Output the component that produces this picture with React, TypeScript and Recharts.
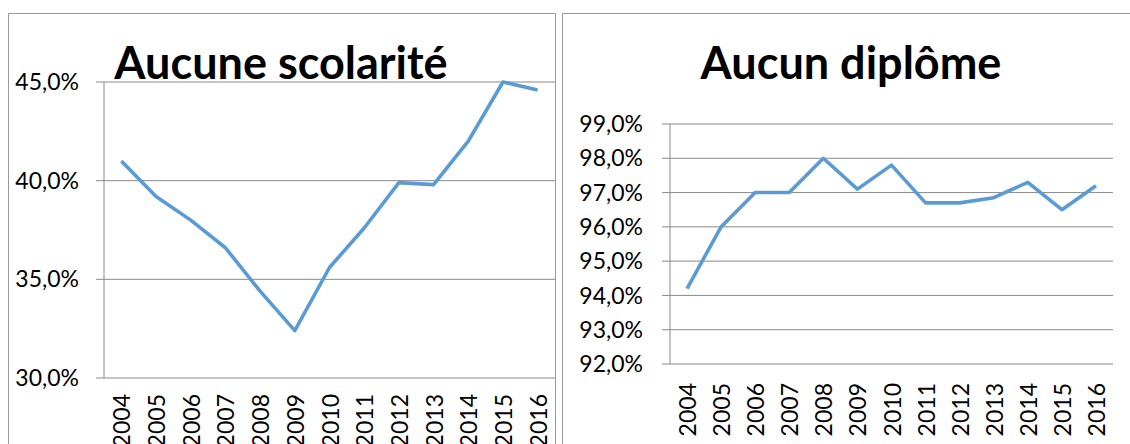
import React from 'react';
import { LineChart, Line, XAxis, YAxis, CartesianGrid } from 'recharts';

const years = ['2004', '2005', '2006', '2007', '2008', '2009', '2010', '2011', '2012', '2013', '2014', '2015', '2016'];
const aucuneScolarite = [41.0, 39.2, 38.0, 36.6, 34.4, 32.4, 35.6, 37.6, 39.9, 39.8, 42.0, 45.0, 44.6];
const aucunDiplome = [94.2, 96.0, 97.0, 97.0, 98.0, 97.1, 97.8, 96.7, 96.7, 96.85, 97.3, 96.5, 97.2];
const leftTicks = [30, 35, 40, 45];
const rightTicks = [92, 93, 94, 95, 96, 97, 98, 99];
const titles = ['Aucune scolarité', 'Aucun diplôme'];

const FONT = 'Lato, "Open Sans", sans-serif';
const GRID = '#8a8a8a';
const LINE = '#5B9BD5';
const LABEL_SIZE = 23;

const fmt = (v: number) => v.toFixed(1).replace('.', ',') + '%';

const makeData = (vals: number[]) => years.map((year, i) => ({ pos: i + 0.5, year, value: vals[i] }));

const YearTick = (props: any) => {
  const { x, y, payload, gap } = props;
  const idx = Math.floor(payload.value);
  const ty = y + gap;
  return (
    <text
      x={x}
      y={ty}
      transform={`rotate(-90 ${x} ${ty})`}
      textAnchor="end"
      dominantBaseline="central"
      fontSize={LABEL_SIZE}
      fontFamily={FONT}
      fill="#000"
    >
      {years[idx]}
    </text>
  );
};

type PanelProps = {
  vals: number[];
  width: number;
  height: number;
  top: number;
  right: number;
  yWidth: number;
  xHeight: number;
  domain: [number, number];
  ticks: number[];
  tickMargin: number;
  gap: number;
};

const Panel = ({ vals, width, height, top, right, yWidth, xHeight, domain, ticks, tickMargin, gap }: PanelProps) => {
  const data = makeData(vals);
  const n = years.length;
  const boundaries = Array.from({ length: n + 1 }, (_, i) => i);
  const centers = years.map((_, i) => i + 0.5);
  return (
    <LineChart width={width} height={height} data={data} margin={{ top, right, bottom: 0, left: 0 }}>
      <CartesianGrid vertical={false} stroke={GRID} strokeWidth={1} />
      <XAxis
        xAxisId="grid"
        dataKey="pos"
        type="number"
        domain={[0, n]}
        ticks={boundaries}
        tick={false}
        tickSize={7}
        height={0}
        axisLine={{ stroke: GRID }}
        tickLine={{ stroke: GRID }}
        allowDataOverflow
      />
      <XAxis
        dataKey="pos"
        type="number"
        domain={[0, n]}
        ticks={centers}
        axisLine={false}
        tickLine={false}
        tickSize={0}
        tickMargin={0}
        height={xHeight}
        interval={0}
        tick={<YearTick gap={gap} />}
      />
      <YAxis
        type="number"
        domain={domain}
        ticks={ticks}
        width={yWidth}
        tickFormatter={fmt}
        tickSize={8}
        tickMargin={tickMargin}
        axisLine={{ stroke: GRID }}
        tickLine={{ stroke: GRID }}
        tick={{ fontSize: LABEL_SIZE, fill: '#000', fontFamily: FONT }}
        interval={0}
      />
      <Line
        type="linear"
        dataKey="value"
        stroke={LINE}
        strokeWidth={3.6}
        dot={false}
        activeDot={false}
        isAnimationActive={false}
        strokeLinejoin="round"
      />
    </LineChart>
  );
};

export default function App() {
  return (
    <div style={{ position: 'absolute', left: 0, top: 0, width: 1130, height: 444, overflow: 'hidden', background: '#fff', fontFamily: FONT }}>
      <div style={{ position: 'absolute', left: 8, top: 13, width: 548, height: 460, border: '1px solid #9a9a9a', boxSizing: 'border-box' }} />
      <div style={{ position: 'absolute', left: 562, top: 13, width: 600, height: 460, border: '1px solid #9a9a9a', boxSizing: 'border-box' }} />
      <div style={{ position: 'absolute', left: 0, top: 0 }}>
        <Panel vals={aucuneScolarite} width={560} height={444} top={82} right={5} yWidth={104} xHeight={66}
          domain={[30, 45]} ticks={leftTicks} tickMargin={17} gap={16} />
      </div>
      <div style={{ position: 'absolute', left: 560, top: 0 }}>
        <Panel vals={aucunDiplome} width={570} height={444} top={124} right={17} yWidth={110} xHeight={80}
          domain={[92, 99]} ticks={rightTicks} tickMargin={19} gap={19} />
      </div>
      <svg width={1130} height={444} style={{ position: 'absolute', left: 0, top: 0, pointerEvents: 'none' }}>
        <text x={281} y={79} textAnchor="middle" fontSize={45} fontWeight={700} fontFamily={FONT} fill="#000">{titles[0]}</text>
        <text x={851} y={79} textAnchor="middle" fontSize={45} fontWeight={700} fontFamily={FONT} fill="#000">{titles[1]}</text>
      </svg>
    </div>
  );
}
